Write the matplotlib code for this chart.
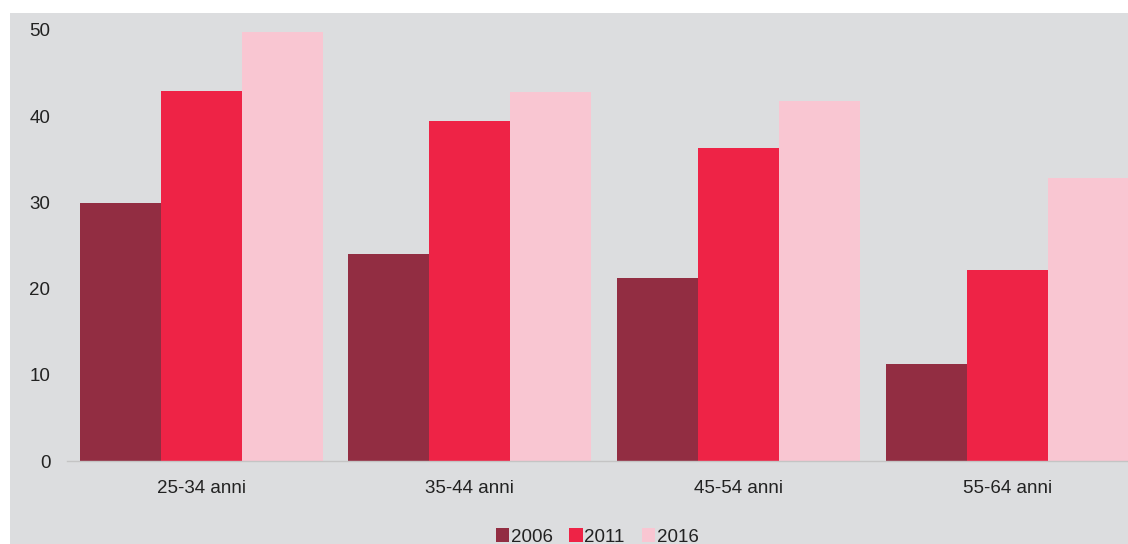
import matplotlib
matplotlib.use("Agg")
import matplotlib.pyplot as plt
from matplotlib.patches import Rectangle
import numpy as np

categories = ["25-34 anni", "35-44 anni", "45-54 anni", "55-64 anni"]
years = ["2006", "2011", "2016"]
v2006 = [29.9, 24.0, 21.2, 11.3]
v2011 = [42.9, 39.4, 36.3, 22.2]
v2016 = [49.8, 42.8, 41.8, 32.8]

colors = ["#922d42", "#ee2346", "#f9c6d2"]
bg = "#dcdddf"

plt.rcParams["font.family"] = ["Liberation Sans", "DejaVu Sans"]

fig = plt.figure(figsize=(11.28, 5.44), dpi=100)
fig.patch.set_facecolor("white")
# grey chart area (starts a bit inside the white page)
fig.patches.append(Rectangle((10 / 1128, 0), 1, 1 - 13 / 544, transform=fig.transFigure,
                             facecolor=bg, edgecolor="none", zorder=-1))

ax = fig.add_axes([67 / 1128, 1 - 461 / 544, 1 - 67 / 1128, (461 - 30) / 544])
ax.patch.set_visible(False)

x = np.arange(len(categories))
w = 81 / 268.5
for i, (vals, yr) in enumerate(zip([v2006, v2011, v2016], years)):
    ax.bar(x + (i - 1) * w, vals, width=w, color=colors[i], label=yr, zorder=2)

ax.set_xlim(-0.5, 3.45)
ax.set_ylim(0, 50)
ax.set_yticks([0, 10, 20, 30, 40, 50])
ax.set_xticks(x)
ax.set_xticklabels(categories)
ax.tick_params(axis="both", length=0, labelsize=13.5, colors="#222222")
ax.tick_params(axis="y", pad=12)
ax.tick_params(axis="x", pad=14)
for s in ["top", "right", "left"]:
    ax.spines[s].set_visible(False)
ax.spines["bottom"].set_color("#c4c4c4")
ax.spines["bottom"].set_linewidth(1)

leg = fig.legend(loc="center", bbox_to_anchor=(597 / 1128, 1 - 537 / 544), ncol=3, frameon=False,
                 fontsize=13.5, handlelength=0.7, handleheight=0.7, handletextpad=0.1,
                 columnspacing=0.9, labelcolor="#222222")

fig.savefig("out.png", dpi=100, facecolor=fig.get_facecolor())
